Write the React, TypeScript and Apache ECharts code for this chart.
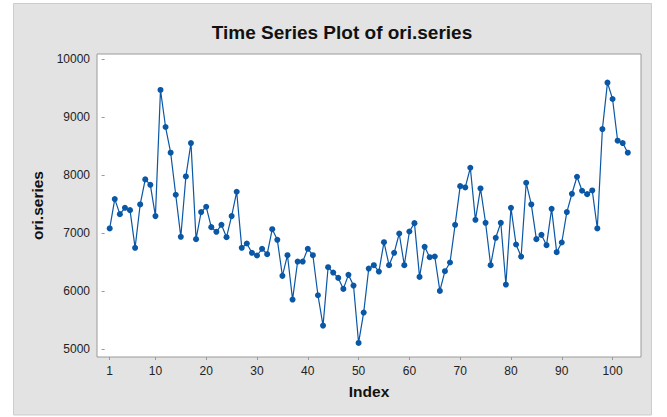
import React, { useEffect, useRef } from "react";
import * as echarts from "echarts";

const titleText = "Time Series Plot of ori.series";
const xAxisTitle = "Index";
const yAxisTitle = "ori.series";

const oriSeries: number[] = [
  7083, 7589, 7330, 7439, 7399, 6749, 7497, 7929, 7836, 7296,
  9471, 8832, 8389, 7664, 6939, 7980, 8556, 6899, 7365, 7457,
  7106, 7025, 7146, 6933, 7296, 7716, 6749, 6824, 6663, 6617,
  6732, 6640, 7071, 6887, 6266, 6622, 5857, 6513, 6513, 6732,
  6622, 5932, 5408, 6415, 6323, 6231, 6041, 6283, 6099, 5109,
  5633, 6392, 6450, 6340, 6847, 6450, 6663, 6996, 6450, 7031,
  7175, 6248, 6766, 6588, 6600, 6007, 6346, 6496, 7146, 7813,
  7790, 8130, 7232, 7773, 7181, 6450, 6922, 7181, 6116, 7439,
  6807, 6599, 7871, 7497, 6899, 6973, 6795, 7422, 6674, 6841,
  7365, 7681, 7975, 7733, 7675, 7739, 7083, 8797, 9597, 9315,
  8596, 8556, 8389,
];

const xTicks = [1, 10, 20, 30, 40, 50, 60, 70, 80, 90, 100];
const yTicks = [5000, 6000, 7000, 8000, 9000, 10000];

const FONT = "'Liberation Sans', Arial, sans-serif";

export default function App() {
  const ref = useRef<HTMLDivElement>(null);

  useEffect(() => {
    if (!ref.current) return;
    const chart = echarts.init(ref.current, undefined, { renderer: "svg" });
    const data = oriSeries.map((v, i) => [i + 1, v]);
    chart.setOption({
      animation: false,
      backgroundColor: "#ffffff",
      title: {
        text: titleText,
        left: 342,
        top: 22.5,
        textAlign: "center",
        padding: 0,
        textStyle: {
          fontFamily: FONT,
          fontSize: 19,
          fontWeight: "bold",
          color: "#111",
        },
      },
      graphic: [
        {
          type: "rect",
          z: -10,
          silent: true,
          shape: { x: 13.5, y: 3.5, width: 638, height: 411.5 },
          style: { fill: "#e3e3e3", stroke: "#cdcdcd", lineWidth: 1 },
        },
      ],
      grid: {
        left: 97,
        top: 54,
        right: 26,
        bottom: 60,
        show: true,
        backgroundColor: "#ffffff",
        borderColor: "#9a9a9a",
        borderWidth: 1,
        containLabel: false,
      },
      xAxis: {
        type: "value",
        min: -1.5,
        max: 105.6,
        name: xAxisTitle,
        nameLocation: "middle",
        nameGap: 34,
        nameTextStyle: {
          fontFamily: FONT,
          fontSize: 15.5,
          fontWeight: "bold",
          color: "#111",
          verticalAlign: "middle",
        },
        splitLine: { show: false },
        axisLine: { show: false },
        axisTick: {
          show: true,
          length: 3,
          customValues: xTicks,
          lineStyle: { color: "#999" },
        },
        axisLabel: {
          customValues: xTicks,
          margin: 8,
          fontFamily: FONT,
          fontSize: 12,
          color: "#222",
          formatter: (v: number) => String(v),
        },
      },
      yAxis: {
        type: "value",
        min: 4867,
        max: 10091,
        name: yAxisTitle,
        nameLocation: "middle",
        nameGap: 54,
        nameTextStyle: {
          fontFamily: FONT,
          fontSize: 15.5,
          fontWeight: "bold",
          color: "#111",
          verticalAlign: "middle",
        },
        splitLine: { show: false },
        axisLine: { show: false },
        axisTick: {
          show: true,
          length: 3,
          customValues: yTicks,
          lineStyle: { color: "#999" },
        },
        axisLabel: {
          customValues: yTicks,
          margin: 7,
          fontFamily: FONT,
          fontSize: 12,
          color: "#222",
          formatter: (v: number) => String(v),
        },
      },
      series: [
        {
          type: "line",
          data,
          symbol: "circle",
          symbolSize: 6,
          lineStyle: { color: "#0a57a6", width: 1.2 },
          itemStyle: { color: "#0a57a6" },
          clip: false,
        },
      ],
    });
    return () => chart.dispose();
  }, []);

  return (
    <div
      ref={ref}
      style={{ position: "fixed", left: 0, top: 0, width: 667, height: 417 }}
    />
  );
}
